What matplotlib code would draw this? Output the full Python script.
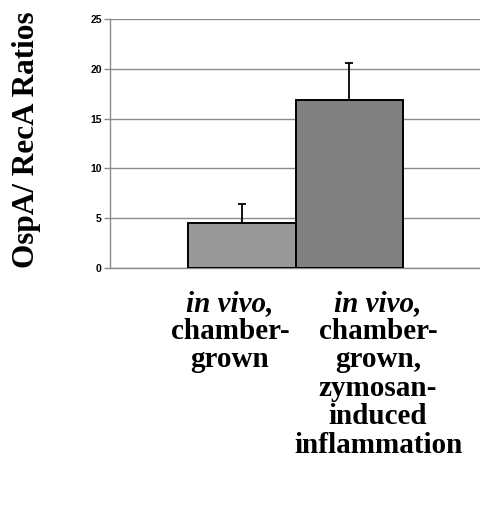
import numpy as np
import matplotlib.pyplot as plt
import matplotlib.transforms as mtransforms

# OspA/RecA ratio for the two in vivo growth conditions
groups = ["chamber-grown", "chamber-grown + zymosan"]
ratios = [4.5, 16.85]
errors = [1.95, 3.7]
bar_colors = ["#999999", "#808080"]

# category text, one list of lines per bar
label_lines = [
    ["in vivo,", "chamber-", "grown"],
    ["in vivo,", "chamber-", "grown,", "zymosan-", "induced", "inflammation"],
]
label_x = [-0.11, 1.27]
line_base_px = [310.7, 338.5, 367, 395.5, 424, 452.7]

yticks = [0, 5, 10, 15, 20, 25]

W, H = 481, 511
fig = plt.figure(figsize=(W / 100, H / 100), dpi=100)
ax = fig.add_axes([110 / W, 1 - 268 / H, 1 - 110 / W, (268 - 19) / H])

x = np.arange(len(ratios))
ax.bar(x, ratios, width=1.0, color=bar_colors, edgecolor="black",
       linewidth=1.4, zorder=3)
ax.errorbar(x, ratios, yerr=[[0, 0], errors], fmt="none", ecolor="black",
            elinewidth=1.3, capsize=2.6, capthick=1.3, zorder=4)

ax.set_xlim(-1.23, 2.23)
ax.set_ylim(0, 25)
ax.set_yticks(yticks)
ax.set_yticklabels([str(t) for t in yticks], fontsize=7.5,
                   fontweight="bold", family="Liberation Sans")
ax.set_xticks([])
ax.yaxis.grid(True, color="#8c8c8c", linewidth=1.0, zorder=0)
ax.set_axisbelow(True)
ax.tick_params(axis="y", length=4, width=1.0, color="#8c8c8c", pad=2)
for side in ["top", "right"]:
    ax.spines[side].set_visible(False)
for side in ["left", "bottom"]:
    ax.spines[side].set_color("#8c8c8c")
    ax.spines[side].set_linewidth(1.0)

fig.text(27 / W, 1 - 140 / H, "OspA/ RecA Ratios", rotation=90,
         ha="center", va="center", fontsize=22.5, fontweight="bold",
         family="Liberation Serif")

trans = mtransforms.blended_transform_factory(ax.transData, fig.transFigure)
for lx, lines in zip(label_x, label_lines):
    for i, line in enumerate(lines):
        style = "italic" if i == 0 else "normal"
        ax.text(lx, 1 - line_base_px[i] / H, line, transform=trans,
                ha="center", va="baseline", fontsize=21,
                fontweight="bold", fontstyle=style,
                family="Liberation Serif")

fig.savefig("out.png", dpi=100)
